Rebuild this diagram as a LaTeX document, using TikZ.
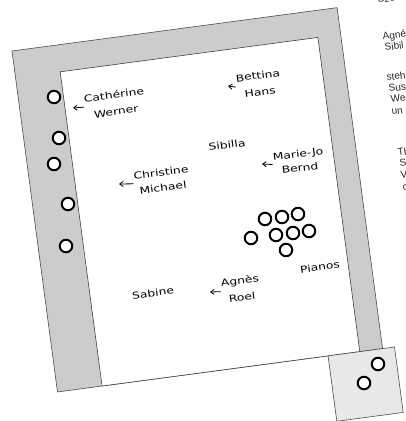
\documentclass[tikz,border=0pt]{standalone}
\usepackage{fontspec}
\setmainfont{Liberation Sans}
\newfontfamily\handfont[FakeStretch=1.3]{DejaVu Sans}
\usetikzlibrary{arrows.meta}

\begin{document}
\begin{tikzpicture}[x=1pt, y=1pt,
    band/.style={draw=black!70, line width=0.6pt, fill=black!20},
    paper/.style={draw=black!75, line width=0.6pt, fill=white},
    stand/.style={draw=black!70, line width=0.6pt, fill=black!9},
    hole/.style={draw, circle, line width=2pt, minimum size=12.5pt, inner sep=0pt, fill=white},
    hand/.style={font=\handfont\fontsize{9.5}{17}\selectfont, align=center, rotate=7.6, inner sep=1pt},
    harrow/.style={-{Straight Barb[length=3.5pt,width=5pt]}, line width=0.8pt},
    side/.style={font=\fontsize{10}{11}\selectfont, anchor=base west, rotate=7.6, inner sep=0pt, text=black!85}]
    \useasboundingbox (0,0) rectangle (406,-421);

    % room, slightly turned
    \begin{scope}[shift={(12,-51)}, rotate=7.6]
        \path[band] (0,0) rectangle (328,-344);
        \path[paper] (45,-27) rectangle (305,-344);
        \path[stand] (273,-344) rectangle (340,-410);
    \end{scope}

    % holes in the band
    \node [hole] (h1) at (54,-97) {};
    \node [hole] (h2) at (59,-138) {};
    \node [hole] (h3) at (54,-164) {};
    \node [hole] (h4) at (68,-204) {};
    \node [hole] (h5) at (66,-246) {};

    % group of rings
    \node [hole] (r1) at (265,-219) {};
    \node [hole] (r2) at (282,-217) {};
    \node [hole] (r3) at (298,-214) {};
    \node [hole] (r4) at (251,-238) {};
    \node [hole] (r5) at (276,-235) {};
    \node [hole] (r6) at (293,-233) {};
    \node [hole] (r7) at (309,-231) {};
    \node [hole] (r8) at (286,-250) {};

    % box in the corner
    \node [hole] (b1) at (378,-364) {};
    \node [hole] (b2) at (364,-383) {};

    % names
    \node [hand] (cath) at (115,-103) {Cathérine\\Werner};
    \node [hand] (bett) at (259,-84) {Bettina\\Hans};
    \node [hand] (sibi) at (227,-145) {Sibilla};
    \node [hand] (mari) at (299,-161) {Marie-Jo\\[-3pt]Bernd};
    \node [hand] (chri) at (162,-180) {Christine\\[-2pt]Michael};
    \node [hand] (agne) at (241,-289) {Agnès\\Roel};
    \node [hand] (sabi) at (153,-293) {Sabine};
    \node [hand] (pian) at (320,-267) {Pianos};

    \coordinate (cathTip) at (73,-108);
    \coordinate (bettTip) at (228,-86);
    \coordinate (mariTip) at (262,-164);
    \coordinate (chriTip) at (119,-184);
    \coordinate (agneTip) at (210,-292);

    \draw [harrow] (cath.west) -- (cathTip);
    \draw [harrow] (bett.west) -- (bettTip);
    \draw [harrow] (mari.west) -- (mariTip);
    \draw [harrow] (chri.west) -- (chriTip);
    \draw [harrow] (agne.west) -- (agneTip);

    % text of the next page, cut off
    \node [side] (s1) at (378,-3) {Szen};
    \node [side] (s2) at (383,-40) {Agné};
    \node [side] (s3) at (385,-51) {Sibil};
    \node [side] (s4) at (387,-81) {steh};
    \node [side] (s5) at (389,-92) {Sus};
    \node [side] (s6) at (391,-103) {We};
    \node [side] (s7) at (392,-115) {un};
    \node [side] (s8) at (398,-156) {Th};
    \node [side] (s9) at (400,-167) {S};
    \node [side] (s10) at (401,-179) {V};
    \node [side] (s11) at (403,-191) {c};
\end{tikzpicture}
\end{document}
